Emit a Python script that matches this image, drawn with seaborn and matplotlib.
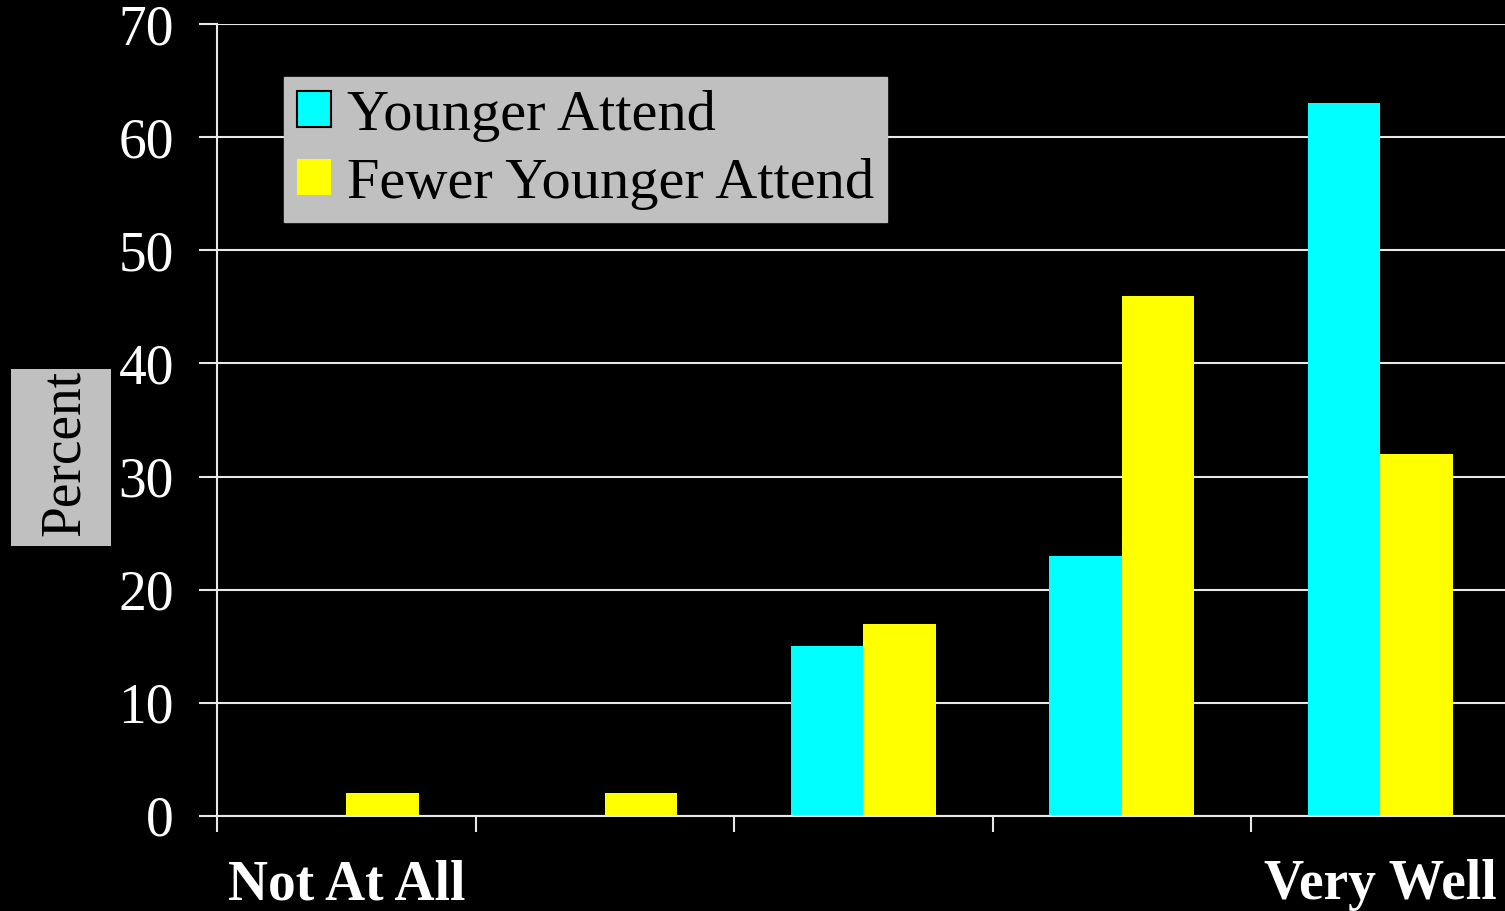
import matplotlib
matplotlib.use("Agg")
import matplotlib.pyplot as plt
from matplotlib.patches import Rectangle
import seaborn as sns
import pandas as pd

# ---- data ----
categories = ["1", "2", "3", "4", "5"]
younger_attend = [0, 0, 15, 23, 63]
fewer_younger_attend = [2, 2, 17, 46, 32]
series_names = ["Younger Attend", "Fewer Younger Attend"]
y_ticks = [0, 10, 20, 30, 40, 50, 60, 70]
end_labels = ["Not At All", "", "", "", "Very Well"]
y_label = "Percent"

df = pd.DataFrame({
    "cat": categories * 2,
    "value": younger_attend + fewer_younger_attend,
    "series": [series_names[0]] * len(categories) + [series_names[1]] * len(categories),
})

sns.set_theme(style="white")
plt.rcParams["font.family"] = ["Liberation Serif", "DejaVu Serif"]

fig = plt.figure(figsize=(15.05, 9.11), dpi=100, facecolor="black")
ax = fig.add_axes([217 / 1505, 95 / 911, 1292.6 / 1505, 792 / 911])
ax.set_facecolor("black")

sns.barplot(data=df, x="cat", y="value", hue="series", order=categories,
            hue_order=series_names, palette=["#00FFFF", "#FFFF00"],
            width=0.56, saturation=1, ax=ax, legend=True, linewidth=0)

ax.set_xlim(-0.5, len(categories) - 0.5)
ax.set_ylim(0, 70)
ax.set_yticks(y_ticks)
ax.set_yticklabels([str(t) for t in y_ticks])

grid_c = "#e8e8e8"
ax.yaxis.grid(True, color=grid_c, lw=1.5)
ax.xaxis.grid(False)
ax.set_axisbelow(True)
for s in ["top", "right"]:
    ax.spines[s].set_visible(False)
for s in ["left", "bottom"]:
    ax.spines[s].set_color(grid_c)
    ax.spines[s].set_linewidth(1.5)

ax.tick_params(axis="y", which="major", left=True, length=13, width=1.5, color=grid_c,
               labelsize=40, labelcolor="white", pad=18)

ax.set_xticks([i - 0.5 for i in range(len(categories) + 1)])
ax.set_xticklabels([""] * (len(categories) + 1))
ax.set_xticks(list(range(len(categories))), minor=True)
ax.set_xticklabels(end_labels, minor=True)
ax.tick_params(axis="x", which="major", bottom=True, length=11.5, width=1.5, color=grid_c)
ax.tick_params(axis="x", which="minor", bottom=True, length=0, labelsize=40,
               labelcolor="white", pad=31)
for lab in ax.get_xticklabels(minor=True):
    lab.set_fontweight("bold")

ax.set_xlabel("")
ax.set_ylabel("")

# legend
handles, labels = ax.get_legend_handles_labels()
leg = ax.legend(handles, labels, loc="upper left", bbox_to_anchor=(67 / 1292.6, 739 / 792),
                borderaxespad=0, frameon=True, fancybox=False, framealpha=1,
                facecolor="#c0c0c0", edgecolor="#c0c0c0", fontsize=42,
                handlelength=0.58, handleheight=0.58, handletextpad=0.28,
                borderpad=0.22, labelspacing=0.27)
for t in leg.get_texts():
    t.set_color("black")
leg.legend_handles[0].set_edgecolor("black")
leg.legend_handles[0].set_linewidth(1.5)

# y label in grey box
fig.patches.append(Rectangle((11 / 1505, 1 - 546 / 911), 100 / 1505, 177 / 911,
                             transform=fig.transFigure, facecolor="#c0c0c0",
                             edgecolor="none", zorder=0))
fig.text(65 / 1505, 1 - 453 / 911, y_label, rotation=90, ha="center", va="center",
         fontsize=40, color="black")

fig.savefig("out.png", dpi=100, facecolor="black")
